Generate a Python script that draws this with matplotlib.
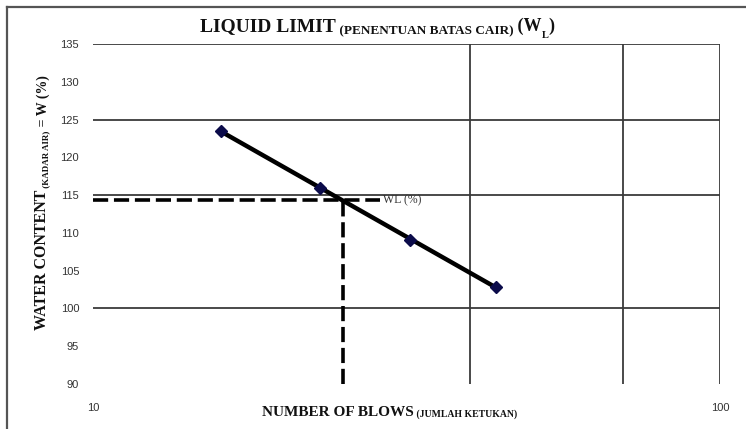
import numpy as np
import matplotlib
matplotlib.use("Agg")
import matplotlib.pyplot as plt
from matplotlib.lines import Line2D
from matplotlib.ticker import NullLocator

# Liquid limit test results
blows = [16, 23, 32, 44]
water_content = [123.5, 116.0, 109.0, 102.9]
standard_blows = 25          # liquid limit is read at 25 blows
guide_end_blows = 28.7       # where the horizontal guide stops

y_ticks = [90, 95, 100, 105, 110, 115, 120, 125, 130, 135]
x_ticks = [10, 100]
x_tick_labels = ["10", "100"]
h_grid = [100, 115, 125, 135]
v_grid = [40, 70, 100]

W, H = 746, 429
SERIF = "Liberation Serif"
SANS = "Liberation Sans"
INK = "#111111"

fig = plt.figure(figsize=(W / 100, H / 100), dpi=100)


def fx(px):
    return px / W


def fy(py):
    return 1 - py / H


ax = fig.add_axes([fx(93), fy(384), (720 - 93) / W, (384 - 44) / H])
ax.set_xscale("log")
ax.set_xlim(10, 100)
ax.set_ylim(90, 135)
for s in ax.spines.values():
    s.set_visible(False)

ax.set_xticks(x_ticks)
ax.set_xticklabels(x_tick_labels)
ax.xaxis.set_minor_locator(NullLocator())
ax.set_yticks(y_ticks)
ax.tick_params(length=0, labelsize=8, colors="#333333")
ax.tick_params(axis="y", pad=10)
ax.tick_params(axis="x", pad=14)
for lab in ax.get_xticklabels() + ax.get_yticklabels():
    lab.set_fontfamily(SANS)

# chart grid
for y in h_grid:
    ax.axhline(y, color="#3a3a3a", lw=1.3, zorder=1)
for x in v_grid:
    ax.axvline(x, color="#3a3a3a", lw=1.3, zorder=1)

# straight-line fit of water content against log(blows)
logx = np.log10(blows)
slope, intercept = np.polyfit(logx, water_content, 1)
wl = slope * np.log10(standard_blows) + intercept
ends = np.array([blows[0], blows[-1]])
ax.plot(ends, slope * np.log10(ends) + intercept, color="black", lw=3.2,
        solid_capstyle="butt", zorder=3)
ax.plot(blows, water_content, "D", color="#0b0b4a", ms=6.5, zorder=4)

# guides to the liquid limit
dash = (0, (4.2, 1.6))
ax.plot([10, guide_end_blows], [wl, wl], color="black", lw=2.6, ls=dash,
        clip_on=False, zorder=2)
ax.plot([standard_blows, standard_blows], [90, wl], color="black", lw=2.6,
        ls=dash, clip_on=False, zorder=2)
ax.text(guide_end_blows * 1.012, wl, "WL (%)", va="center", ha="left",
        fontfamily=SERIF, fontsize=8.5, color="#333333")

# title
t1 = fig.text(fx(200), fy(31), "LIQUID LIMIT", fontfamily=SERIF, fontsize=14,
              weight="bold", va="baseline", ha="left", color=INK)
t2 = ax.annotate(" (PENENTUAN BATAS CAIR)", xy=(1, 0), xycoords=t1,
                 xytext=(0, -2), textcoords="offset points",
                 ha="left", va="bottom", fontfamily=SERIF, fontsize=9.5,
                 weight="bold", color=INK, annotation_clip=False)
t3 = ax.annotate(" (W", xy=(1, 0), xycoords=t2, xytext=(0, 2),
                 textcoords="offset points", ha="left", va="bottom",
                 fontfamily=SERIF, fontsize=13, weight="bold", color=INK,
                 annotation_clip=False)
ax.annotate("L", xy=(1, 0), xycoords=t3, ha="left", va="center",
            fontfamily=SERIF, fontsize=7.5, weight="bold", color=INK,
            annotation_clip=False)
ax.annotate(")", xy=(1, 0), xycoords=t3, xytext=(4.5, 0),
            textcoords="offset points", ha="left", va="bottom",
            fontfamily=SERIF, fontsize=13, weight="bold", color=INK,
            annotation_clip=False)

# x-axis title
xl1 = fig.text(fx(262), fy(416), "NUMBER OF BLOWS", fontfamily=SERIF,
               fontsize=11, weight="bold", va="baseline", ha="left",
               color=INK)
ax.annotate(" (JUMLAH KETUKAN)", xy=(1, 0), xycoords=xl1, ha="left",
            va="bottom", fontfamily=SERIF, fontsize=7, weight="bold",
            color=INK, annotation_clip=False)

# y-axis title
yl1 = fig.text(fx(50), fy(330), "WATER CONTENT", fontfamily=SERIF,
               fontsize=11.5, weight="bold", rotation=90, ha="right",
               va="bottom", color=INK)
yl2 = ax.annotate(" (KADAR AIR)", xy=(1, 1), xycoords=yl1, ha="right",
                  va="bottom", rotation=90, fontfamily=SERIF, fontsize=6.5,
                  weight="bold", color=INK, annotation_clip=False)
ax.annotate(" = W (%)", xy=(1, 1), xycoords=yl2, ha="right", va="bottom",
            rotation=90, fontfamily=SERIF, fontsize=10, weight="bold",
            color=INK, annotation_clip=False)

# frame edges
fig.add_artist(Line2D([fx(7), fx(7)], [fy(7), 0], transform=fig.transFigure,
                      color="#555555", lw=1.6))
fig.add_artist(Line2D([fx(7), 1], [fy(7), fy(7)], transform=fig.transFigure,
                      color="#555555", lw=1.6))

fig.savefig("out.png", dpi=100)
